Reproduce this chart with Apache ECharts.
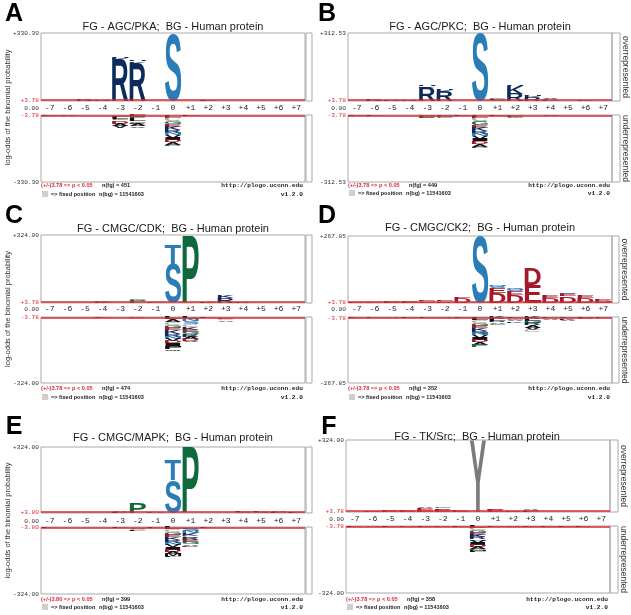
<!DOCTYPE html>
<html lang="en">
<head>
<meta charset="UTF-8">
<title>pLogo - kinase motifs vs human proteome</title>
<script src="https://cdn.jsdelivr.net/npm/echarts@6.0.0/dist/echarts.min.js"></script>
<style>html,body{margin:0;background:#fff;}</style>
</head>
<body>
<div id="chart" style="width:631px;height:615px;"></div>
<script>
const positions = ['-7','-6','-5','-4','-3','-2','-1','0','+1','+2','+3','+4','+5','+6','+7'];

const panelTags = ['A', 'B', 'C', 'D', 'E', 'F'];
const titles = [
    'FG - AGC/PKA;  BG - Human protein',
    'FG - AGC/PKC;  BG - Human protein',
    'FG - CMGC/CDK;  BG - Human protein',
    'FG - CMGC/CK2;  BG - Human protein',
    'FG - CMGC/MAPK;  BG - Human protein',
    'FG - TK/Src;  BG - Human protein'
];
const yMax = [330.30, 312.53, 324.00, 267.85, 324.00, 324.00];
const threshold = [3.78, 3.78, 3.78, 3.78, 3.80, 3.78];
const nFg = [451, 449, 474, 352, 399, 358];
const nBg = [11541603, 11541603, 11541603, 11541603, 11541603, 11541603];

// overrepresented, stacked upward: [position, residue, log-odds]
const upA = [
    ['-6','K',2], ['-5','R',5], ['-5','K',3], ['-5','H',2], ['-4','R',3], ['-4','K',2],
    ['-3','R',205], ['-3','K',6], ['-3','H',4],
    ['-2','R',185], ['-2','K',8], ['-2','H',5],
    ['0','S',326], ['+1','A',2], ['+2','L',3], ['+3','G',2]
];
// underrepresented, stacked downward
const downA = [
    ['-7','L',4], ['-6','A',3], ['-5','L',2],
    ['-3','E',8], ['-3','L',10], ['-3','G',9], ['-3','C',8], ['-3','D',9], ['-3','A',10], ['-3','V',9],
    ['-2','E',9], ['-2','P',10], ['-2','L',10], ['-2','G',9], ['-2','D',8], ['-2','A',9], ['-2','V',7],
    ['-1','L',2],
    ['0','L',14], ['0','C',16], ['0','G',15], ['0','E',12], ['0','K',16], ['0','R',15], ['0','N',10],
    ['0','V',14], ['0','I',12], ['0','D',10], ['0','A',14], ['0','P',7],
    ['+1','L',3], ['+2','D',2]
];

const upB = [
    ['-7','K',2], ['-6','R',4], ['-6','K',3], ['-6','H',2], ['-5','R',3], ['-5','K',2], ['-4','R',3], ['-4','K',2],
    ['-3','R',62], ['-3','K',8], ['-3','H',4],
    ['-2','R',44], ['-2','K',5], ['-2','H',3], ['-1','K',2],
    ['0','S',312.53],
    ['+1','A',6], ['+1','L',4], ['+1','G',3],
    ['+2','R',34], ['+2','K',36], ['+2','H',5],
    ['+3','R',18], ['+3','K',5], ['+3','H',3],
    ['+4','L',5], ['+4','A',4], ['+4','V',3], ['+5','L',2], ['+6','K',4], ['+7','L',2]
];
const downB = [
    ['-7','L',3], ['-6','L',5], ['-5','A',2], ['-4','L',2],
    ['-3','P',5], ['-3','E',4], ['-3','D',3], ['-3','G',3],
    ['-2','E',5], ['-2','P',4], ['-2','G',3], ['-1','L',3],
    ['0','L',14], ['0','C',15], ['0','G',16], ['0','E',14], ['0','K',15], ['0','R',14], ['0','N',10],
    ['0','V',13], ['0','I',12], ['0','D',10], ['0','A',14], ['0','P',6],
    ['+1','L',3], ['+2','P',6], ['+2','E',5], ['+2','G',4],
    ['+3','L',2], ['+4','A',3], ['+5','L',2], ['+6','L',2]
];

const upC = [
    ['-6','K',1], ['-5','K',2], ['-4','K',4], ['-4','G',3], ['-3','L',1],
    ['-2','P',12], ['-2','G',3], ['-1','P',3],
    ['0','S',186], ['0','T',95],
    ['+1','P',324],
    ['+2','K',3], ['+2','R',2], ['+3','R',24], ['+3','K',9],
    ['+4','K',3], ['+5','K',2], ['+6','R',2], ['+7','K',2]
];
const downC = [
    ['-7','L',2], ['-6','D',2], ['-5','L',2], ['-4','E',3], ['-3','L',2], ['-2','D',4], ['-1','L',2],
    ['0','L',12], ['0','A',13], ['0','C',14], ['0','G',15], ['0','E',12], ['0','K',16], ['0','R',14],
    ['0','N',10], ['0','V',12], ['0','D',11], ['0','I',12], ['0','M',8], ['0','F',10], ['0','W',8],
    ['+1','L',10], ['+1','N',12], ['+1','S',14], ['+1','C',12], ['+1','K',14], ['+1','E',11],
    ['+1','G',12], ['+1','R',13], ['+1','A',12], ['+1','D',10], ['+1','V',4],
    ['+2','L',3], ['+3','D',8], ['+3','C',8], ['+3','A',8],
    ['+4','L',2], ['+5','L',2], ['+6','L',2], ['+7','D',2]
];

const upD = [
    ['-7','D',3], ['-7','E',2], ['-6','D',4], ['-6','E',2], ['-5','D',4], ['-5','E',3],
    ['-4','D',5], ['-4','E',3], ['-3','D',6], ['-3','E',4], ['-3','S',2],
    ['-2','D',7], ['-2','E',5], ['-2','S',2], ['-1','D',20], ['-1','E',6], ['-1','S',2],
    ['0','S',267.85],
    ['+1','D',40], ['+1','E',18], ['+1','S',6], ['+1','Q',4], ['+1','N',4],
    ['+2','D',32], ['+2','E',16], ['+2','S',5], ['+2','N',4], ['+2','Q',3],
    ['+3','E',73], ['+3','D',67],
    ['+4','D',20], ['+4','E',10], ['+4','S',2],
    ['+5','D',26], ['+5','E',9], ['+5','S',3], ['+5','N',2],
    ['+6','D',18], ['+6','E',8], ['+6','S',2],
    ['+7','D',12], ['+7','E',6]
];
const downD = [
    ['-7','L',3], ['-6','L',3], ['-5','A',3], ['-4','L',3], ['-3','L',3], ['-2','A',3], ['-1','L',4],
    ['0','L',11], ['0','C',12], ['0','G',12], ['0','E',9], ['0','K',12], ['0','R',11], ['0','N',8],
    ['0','V',10], ['0','I',9], ['0','D',8], ['0','A',10], ['0','P',8],
    ['+1','K',8], ['+1','L',8], ['+1','R',6], ['+1','A',6], ['+1','G',4],
    ['+2','L',6], ['+2','G',6], ['+2','A',6], ['+2','K',6],
    ['+3','K',8], ['+3','L',8], ['+3','G',10], ['+3','R',8], ['+3','A',10], ['+3','V',8], ['+3','C',8],
    ['+4','L',6], ['+4','A',6], ['+5','L',6], ['+5','K',5], ['+5','A',5],
    ['+6','L',4], ['+6','A',4], ['+7','L',3]
];

const upE = [
    ['-7','L',1], ['-6','K',1], ['-5','L',2], ['-4','L',2], ['-3','L',4], ['-3','A',3],
    ['-2','P',52], ['-2','G',2], ['-1','P',4],
    ['0','S',160], ['0','T',100],
    ['+1','P',324],
    ['+2','L',2], ['+3','L',1], ['+4','S',4], ['+4','L',3], ['+5','S',4], ['+5','L',3],
    ['+6','L',3], ['+6','A',3], ['+7','L',3], ['+7','A',2]
];
const downE = [
    ['-7','L',3], ['-6','L',2], ['-5','L',2], ['-4','L',2], ['-3','L',3],
    ['-2','A',8], ['-2','C',7], ['-2','L',5], ['-1','L',3],
    ['0','L',12], ['0','C',13], ['0','G',14], ['0','E',11], ['0','K',14], ['0','R',13], ['0','N',9],
    ['0','V',12], ['0','I',11], ['0','D',10], ['0','A',12], ['0','M',9], ['0','F',7],
    ['+1','L',8], ['+1','S',12], ['+1','N',10], ['+1','K',12], ['+1','C',10], ['+1','R',10],
    ['+1','E',10], ['+1','G',10], ['+1','A',8], ['+1','D',8],
    ['+2','L',3], ['+3','L',2], ['+4','L',2], ['+5','L',2], ['+6','L',2], ['+7','L',2]
];

const upF = [
    ['-7','E',2], ['-6','D',3], ['-5','E',4], ['-5','D',3], ['-4','E',5], ['-4','D',4],
    ['-3','E',12], ['-3','D',8], ['-3','A',4], ['-2','E',9], ['-2','D',7], ['-2','G',4],
    ['-1','E',5], ['-1','D',4], ['-1','A',2],
    ['0','Y',324],
    ['+1','E',9], ['+1','D',4], ['+1','L',2], ['+2','D',3], ['+2','E',2],
    ['+3','L',6], ['+3','G',5], ['+3','A',3],
    ['+4','L',2], ['+5','L',2], ['+6','E',2], ['+7','D',2]
];
const downF = [
    ['-7','L',4], ['-6','A',4], ['-5','L',4], ['-4','P',4], ['-3','L',4], ['-2','P',5], ['-1','L',4],
    ['0','L',10], ['0','C',11], ['0','G',12], ['0','E',9], ['0','K',12], ['0','R',11], ['0','N',8],
    ['0','V',10], ['0','I',9], ['0','D',9], ['0','A',10], ['0','P',6], ['0','M',5], ['0','F',4],
    ['+1','L',4], ['+2','A',3], ['+3','L',5], ['+4','L',3], ['+5','L',3], ['+6','L',3], ['+7','L',2]
];

const upData = [upA, upB, upC, upD, upE, upF];
const downData = [downA, downB, downC, downD, downE, downF];

const residueColor = {
    S: '#2b7db8', T: '#2b7db8', N: '#2b7db8', Q: '#2b7db8',
    K: '#0c2b5b', R: '#0c2b5b', H: '#0c2b5b',
    D: '#a3192b', E: '#a3192b',
    P: '#0f6a3b', G: '#0f6a3b',
    A: '#111', V: '#111', L: '#111', I: '#111', M: '#111', F: '#111', W: '#111',
    C: '#b9a3a3', Y: '#7b7b7b'
};

// pixel placement of each panel
const layout = [
    {left: 41, right: 305, top: 33, mid: 101, low: 115, bottom: 182, axisY: 108, titleX: 173, titleY: 27, tagX: 14, tagY: 14, foot: [185, 194], side: 312},
    {left: 348, right: 612, top: 33, mid: 101, low: 115, bottom: 182, axisY: 108, titleX: 480, titleY: 27, tagX: 327, tagY: 14, foot: [185, 193], side: 620},
    {left: 41, right: 305, top: 235, mid: 303, low: 317, bottom: 383, axisY: 309, titleX: 173, titleY: 229, tagX: 14, tagY: 216, foot: [388, 397], side: 312},
    {left: 348, right: 612, top: 236, mid: 303, low: 317, bottom: 383, axisY: 309, titleX: 480, titleY: 228, tagX: 327, tagY: 216, foot: [388, 397], side: 619},
    {left: 41, right: 305, top: 447, mid: 513, low: 527, bottom: 594, axisY: 521, titleX: 173, titleY: 438, tagX: 14, tagY: 427, foot: [599, 607], side: 312},
    {left: 346, right: 610, top: 440, mid: 512, low: 526, bottom: 593, axisY: 519, titleX: 477, titleY: 437, tagX: 329, tagY: 427, foot: [599, 607], side: 618}
];

const glyphFont = 'bold 100px "Liberation Sans", Arial, sans-serif';
const measureCtx = document.createElement('canvas').getContext('2d');
measureCtx.font = glyphFont;
measureCtx.textAlign = 'center';
measureCtx.textBaseline = 'middle';
const glyphBox = {};
function glyph(ch) {
    if (!glyphBox[ch]) {
        const m = measureCtx.measureText(ch);
        glyphBox[ch] = {l: m.actualBoundingBoxLeft, r: m.actualBoundingBoxRight, a: m.actualBoundingBoxAscent, d: m.actualBoundingBoxDescent};
    }
    return glyphBox[ch];
}

function stack(list, dir) {
    const base = {};
    const data = [], letters = [];
    list.forEach(([pos, ch, h]) => {
        const b = base[pos] || 0;
        data.push([positions.indexOf(pos), dir * b, dir * (b + h)]);
        letters.push(ch);
        base[pos] = b + h;
    });
    return {data, letters};
}

// stretch each residue letter over its stack cell
function letterRenderer(letters) {
    return function (params, api) {
        const ch = letters[params.dataIndex];
        const ci = api.value(0);
        const a = api.coord([ci, api.value(1)]);
        const b = api.coord([ci, api.value(2)]);
        const h = Math.abs(a[1] - b[1]);
        if (h < 0.25) return null;
        const bw = api.size([1, 0])[0] * 0.93;
        const g = glyph(ch);
        const sx = bw / (g.l + g.r);
        const sy = h / (g.a + g.d);
        const cy = (a[1] + b[1]) / 2;
        return {
            type: 'text',
            x: a[0] - sx * (g.r - g.l) / 2,
            y: cy - sy * (g.d - g.a) / 2,
            scaleX: sx,
            scaleY: sy,
            style: {text: ch, font: glyphFont, fill: residueColor[ch] || '#111', align: 'center', verticalAlign: 'middle'}
        };
    };
}

const red = '#dc2a2e';
const monoFont = '"Liberation Mono", "DejaVu Sans Mono", monospace';
const sansFont = '"Liberation Sans", Arial, sans-serif';

function tickFormatter(v) {
    const s = (v > 0 ? '+' : '') + v.toFixed(2);
    return Math.abs(v) < 10 ? '{r|' + s + '}' : '{k|' + s + '}';
}
const tickRich = {
    r: {color: red, fontFamily: monoFont, fontSize: 6.2},
    k: {color: '#333', fontFamily: monoFont, fontSize: 6.2}
};

const grids = [], xAxes = [], yAxes = [], series = [], graphics = [];

layout.forEach((p, i) => {
    const w = p.right - p.left;
    grids.push({left: p.left, top: p.top, width: w, height: p.mid - p.top, show: true, borderColor: '#a9a9a9', borderWidth: 1});
    grids.push({left: p.left, top: p.low, width: w, height: p.bottom - p.low, show: true, borderColor: '#a9a9a9', borderWidth: 1});

    xAxes.push({
        type: 'category', gridIndex: 2 * i, data: positions,
        axisLine: {show: false}, axisTick: {show: false},
        axisLabel: {interval: 0, margin: p.axisY - p.mid - 4, fontFamily: monoFont, fontSize: 8, color: '#222'}
    });
    xAxes.push({
        type: 'category', gridIndex: 2 * i + 1, data: positions,
        axisLine: {show: false}, axisTick: {show: false}, axisLabel: {show: false}
    });
    yAxes.push({
        type: 'value', gridIndex: 2 * i, min: 0, max: yMax[i],
        axisLine: {show: false}, axisTick: {show: false}, splitLine: {show: false},
        axisLabel: {customValues: [threshold[i], yMax[i]], formatter: tickFormatter, rich: tickRich, margin: 2}
    });
    yAxes.push({
        type: 'value', gridIndex: 2 * i + 1, min: -yMax[i], max: 0,
        axisLine: {show: false}, axisTick: {show: false}, splitLine: {show: false},
        axisLabel: {customValues: [-yMax[i], -threshold[i]], formatter: tickFormatter, rich: tickRich, margin: 2}
    });

    const up = stack(upData[i], 1);
    const down = stack(downData[i], -1);
    const cutLine = (v) => ({
        silent: true, symbol: 'none', label: {show: false},
        lineStyle: {color: red, width: 1.6, type: 'solid'},
        data: [{yAxis: v}]
    });
    series.push({
        type: 'custom', xAxisIndex: 2 * i, yAxisIndex: 2 * i, data: up.data,
        renderItem: letterRenderer(up.letters), clip: false, markLine: cutLine(threshold[i])
    });
    series.push({
        type: 'custom', xAxisIndex: 2 * i + 1, yAxisIndex: 2 * i + 1, data: down.data,
        renderItem: letterRenderer(down.letters), clip: false, markLine: cutLine(-threshold[i])
    });

    // panel tag + title
    graphics.push({type: 'text', x: p.tagX, y: p.tagY, style: {text: panelTags[i], font: 'bold 25px ' + sansFont, fill: '#000', align: 'center', verticalAlign: 'middle'}});
    graphics.push({type: 'text', x: p.titleX, y: p.titleY, style: {text: titles[i], font: '11px ' + sansFont, fill: '#1a1a1a', align: 'center', verticalAlign: 'middle'}});
    // zero label in the position row
    graphics.push({type: 'text', x: p.left - 2, y: p.axisY, style: {text: '0.00', font: '6.2px ' + monoFont, fill: '#333', align: 'right', verticalAlign: 'middle'}});

    // side brackets
    const sx = i % 2 === 0 ? p.right + 1 : p.right;
    graphics.push({type: 'rect', shape: {x: sx, y: p.top, width: p.side - sx, height: p.mid - p.top}, style: {fill: 'none', stroke: '#a9a9a9', lineWidth: 1}});
    graphics.push({type: 'rect', shape: {x: sx, y: p.low, width: p.side - sx, height: p.bottom - p.low}, style: {fill: 'none', stroke: '#a9a9a9', lineWidth: 1}});
    if (i % 2 === 1) {
        graphics.push({type: 'text', x: p.side + 5, y: (p.top + p.mid) / 2, rotation: -Math.PI / 2, style: {text: 'overrepresented', font: '8.5px ' + sansFont, fill: '#333', align: 'center', verticalAlign: 'middle'}});
        graphics.push({type: 'text', x: p.side + 5, y: (p.low + p.bottom) / 2, rotation: -Math.PI / 2, style: {text: 'underrepresented', font: '8.5px ' + sansFont, fill: '#333', align: 'center', verticalAlign: 'middle'}});
    } else {
        graphics.push({type: 'text', x: 8, y: (p.top + p.bottom) / 2, rotation: Math.PI / 2, style: {text: 'log-odds of the binomial probability', font: '7.5px ' + sansFont, fill: '#333', align: 'center', verticalAlign: 'middle'}});
    }

    // footer
    const f1 = p.foot[0], f2 = p.foot[1];
    const footFont = 'bold 5.6px ' + sansFont;
    graphics.push({type: 'text', x: p.left, y: f1, style: {text: '(+/-)' + threshold[i].toFixed(2) + ' => p < 0.05', font: footFont, fill: red, align: 'left', verticalAlign: 'middle'}});
    graphics.push({type: 'text', x: p.left + 61, y: f1, style: {text: 'n(fg) = ' + nFg[i], font: footFont, fill: '#222', align: 'left', verticalAlign: 'middle'}});
    graphics.push({type: 'rect', shape: {x: p.left + 1, y: f2 - 3, width: 6, height: 6}, style: {fill: '#cfcfcf'}});
    graphics.push({type: 'text', x: p.left + 10, y: f2, style: {text: '=> fixed position', font: footFont, fill: '#222', align: 'left', verticalAlign: 'middle'}});
    graphics.push({type: 'text', x: p.left + 58, y: f2, style: {text: 'n(bg) = ' + nBg[i], font: footFont, fill: '#222', align: 'left', verticalAlign: 'middle'}});
    graphics.push({type: 'text', x: p.right - 2, y: f1, style: {text: 'http://plogo.uconn.edu', font: 'bold 6.2px ' + monoFont, fill: '#222', align: 'right', verticalAlign: 'middle'}});
    graphics.push({type: 'text', x: p.right - 2, y: f2, style: {text: 'v1.2.0', font: 'bold 6.2px ' + monoFont, fill: '#222', align: 'right', verticalAlign: 'middle'}});
});

const myChart = echarts.init(document.getElementById('chart'), null, {renderer: 'canvas'});
myChart.setOption({
    animation: false,
    backgroundColor: '#fff',
    grid: grids,
    xAxis: xAxes,
    yAxis: yAxes,
    series: series,
    graphic: graphics
});
</script>
</body>
</html>
